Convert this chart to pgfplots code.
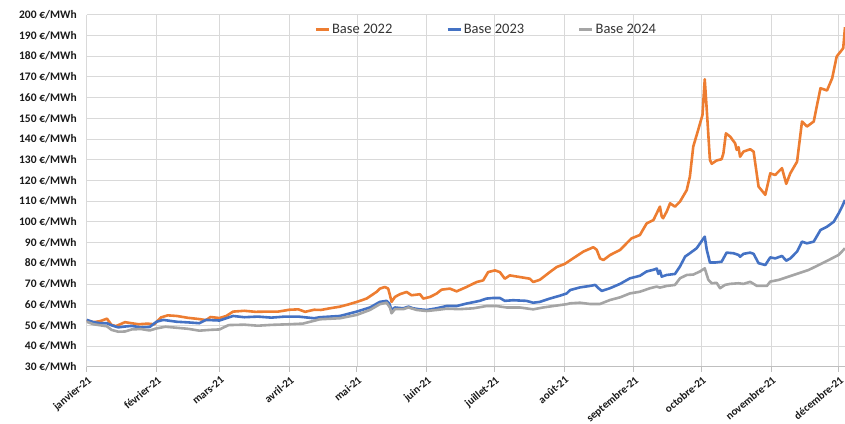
\documentclass[border=0pt]{standalone}
\usepackage{pgfplots}
\pgfplotsset{compat=1.18}
\usepackage{fontspec}
\setmainfont{Carlito}
\definecolor{cOrange}{HTML}{ED7D31}
\definecolor{cBlue}{HTML}{4472C4}
\definecolor{cGray}{HTML}{A5A5A5}
\definecolor{cGrid}{HTML}{D9D9D9}
\definecolor{cAxis}{HTML}{BFBFBF}
\begin{document}
\begin{tikzpicture}
\useasboundingbox (0pt,0pt) rectangle (845pt,423pt);
\begin{axis}[
  at={(86.7pt,56.3pt)}, anchor=south west,
  width=758.3pt, height=352pt, scale only axis,
  xmin=0, xmax=336.8, ymin=30, ymax=200,
  axis x line=bottom, axis y line=left,
  axis line style={-, draw=cAxis, line width=0.8pt},
  y axis line style={draw=cGrid},
  xtick={0,31,59,90,120,151,181,212,243,273,304,334},
  xticklabels={janvier-21,février-21,mars-21,avril-21,mai-21,juin-21,juillet-21,août-21,septembre-21,octobre-21,novembre-21,décembre-21},
  xtick align=outside, xtick pos=bottom,
  major tick length=5pt,
  xtick style={draw=cAxis, line width=0.8pt},
  xticklabel style={font=\fontsize{11}{12}\selectfont\bfseries, rotate=40, anchor=north east, inner sep=1pt, xshift=-1pt, yshift=-2pt, text=black!90},
  ytick={30,40,...,200},
  yticklabels={30 €/MWh,40 €/MWh,50 €/MWh,60 €/MWh,70 €/MWh,80 €/MWh,90 €/MWh,100 €/MWh,110 €/MWh,120 €/MWh,130 €/MWh,140 €/MWh,150 €/MWh,160 €/MWh,170 €/MWh,180 €/MWh,190 €/MWh,200 €/MWh},
  ytick style={draw=none},
  yticklabel style={font=\fontsize{11.5}{12}\selectfont\bfseries, text=black!90, xshift=-4pt},
  grid=major,
  major grid style={draw=cGrid, line width=0.7pt},
  legend style={at={(0.527,0.985)}, anchor=north, draw=none, fill=none,
    font=\fontsize{14.5}{16}\selectfont, text=black!80,
    /tikz/every even column/.append style={column sep=52pt}},
  legend columns=3,
  legend image code/.code={\draw[#1, line width=2.4pt] (0pt,0pt) -- (13pt,0pt);},
  every axis plot/.append style={line width=2.6pt, line join=round, mark=none},
]
\addplot[cOrange] coordinates {
(0,52.4)(3,51.5)(6,52)(9,53.2)(11,50.2)(13,49.6)(17,51.5)(20,51)(23,50.5)(27,50.8)
(30,50.5)(33,53.8)(36,54.8)(40,54.5)(45,53.6)(50,53)(53,52.5)(55,54)(59,53.5)(62,54.5)
(65,56.6)(70,57)(75,56.5)(80,56.6)(85,56.6)(90,57.5)(94,57.7)(97,56.5)(101,57.5)(104,57.4)
(108,58.2)(112.5,59)(116,60)(120,61.3)(124.3,62.9)(128.7,66.1)(130.2,67.7)(132.4,68.5)(133.9,67.7)(134.7,64.5)
(135.4,61.3)(136.9,63.7)(139.1,65)(142.1,66.1)(144.3,64.5)(148,65)(149.5,62.9)(152.5,63.7)(155.4,65.3)(157.6,67.2)
(161.3,67.7)(164.3,66.4)(168.7,68.5)(173.2,70.9)(176.1,71.7)(178.3,75.7)(181.3,76.5)(183.5,75.7)(185.7,72.5)(187.9,74.1)
(192.4,73.3)(196.8,72.5)(198.3,70.9)(201.3,72)(205.7,75.7)(208.7,78.1)(212.4,79.7)(216,82.3)(220.6,85.6)(225,87.7)
(226.5,86.5)(228,82.3)(229.5,81.5)(232.4,83.9)(236.9,86.4)(239.8,89.6)(242,92)(245.7,93.6)(248.7,99.2)(251.7,100.8)
(254.6,107.3)(255.4,102.5)(256,101.7)(257.6,104.9)(259.1,108.9)(261.3,107.3)(263.5,109.7)(266.5,115.3)(267.9,121.8)(269.4,136.3)
(271.6,144.4)(273.5,151.6)(274.5,168.8)(275.4,154.1)(276.8,129.9)(277.6,128)(279.8,129.6)(282,130.2)(282.8,133.1)(283.9,142.7)
(285.8,141.1)(288,137.9)(288.7,134.7)(289.5,136)(290.2,131.4)(291.7,133.9)(294.7,135)(296.2,133.9)(298.4,117)(301.4,113)
(303.6,123.4)(305.8,122.6)(308.8,125.9)(310.7,118.3)(312.5,123.4)(315.5,129)(317.7,148.4)(319.9,146)(322.9,148.4)(325.9,164.5)
(328.8,163.4)(331.1,169.3)(333.1,179.8)(336,183.8)(336.8,194)
};
\addplot[cBlue] coordinates {
(0,52.6)(3,51.5)(6,51)(9,51)(11,50)(14,49)(17,49.4)(20,49.7)(24,49)(28,49.2)
(31,51.7)(34,52.6)(40,51.7)(45,51.4)(50,51)(53,52.6)(59,52.3)(65,54.5)(70,53.9)(76,54.2)
(82,53.7)(88,54.2)(94,54.2)(101,53.4)(103.6,53.9)(112.5,54.5)(119.9,56.6)(125.8,58.6)(130.2,61.3)(133.2,61.8)
(134.4,60.5)(135.4,57.4)(136.9,58.6)(140.6,58.2)(142.9,59)(145,58.2)(148,57.7)(151,57.4)(155.4,58.2)(159.8,59.3)
(164.3,59.3)(168.7,60.5)(174.6,61.8)(177.6,62.9)(180.6,63.2)(183.5,63.2)(185.7,61.8)(189.4,62.1)(195.3,61.8)(198.3,60.9)
(201.3,61.3)(205.7,62.9)(210.2,64.3)(213.2,65.4)(214.7,67)(219.1,68.3)(223.5,69)(225.8,69.5)(227.3,67.9)(228.8,66.6)
(232.4,67.9)(236.9,70)(241.3,72.7)(245.7,73.9)(248.7,76)(251.7,76.8)(253.2,77.4)(253.9,74.8)(254.6,76.4)(255.4,73.5)
(257.6,74.3)(261.3,74.8)(263.5,78.4)(265.8,83.2)(267.9,84.8)(270.9,87.2)(274.5,92.8)(275.4,86.4)(276.8,80.3)(279,80.3)
(282,80.7)(284.2,85.1)(287.2,84.8)(289.5,84)(290.2,83.1)(291.7,84.5)(294.7,85.1)(296.2,84.5)(298.4,80)(301.4,79.1)
(303.6,82.8)(305.8,82.3)(308.8,83.5)(310.7,81.2)(312.5,82.3)(315.5,85.6)(317.7,90.4)(319.9,89.6)(322.9,90.4)(325.9,96)
(328.8,97.6)(331.8,100)(334,104.1)(335.5,107.3)(336.8,110.5)
};
\addplot[cGray] coordinates {
(0,51.7)(3,50.5)(6,50)(9,49.5)(11,47.8)(14,46.9)(17,47)(20,48)(24,48.2)(28,47.5)
(31,48.5)(35,49.3)(40,48.8)(45,48.3)(50,47.4)(55,47.8)(59,48)(63,50.1)(70,50.3)(76,49.8)
(82,50.2)(90,50.5)(96,50.8)(103.6,52.9)(112.5,53.4)(119.9,55)(125.8,57.4)(130.2,60.2)(133.2,60.9)(134.7,58.5)
(135.4,55.8)(136.9,57.8)(140.6,57.8)(142.9,58.6)(146.6,57.4)(151,56.9)(155.4,57.4)(159.8,58)(165.8,57.8)(171.7,58.2)
(177.6,59.3)(182,59.3)(186.5,58.6)(192.4,58.6)(198.3,57.7)(202.7,58.6)(207.2,59.3)(213.2,60.2)(214.7,60.6)(219.1,60.9)
(223.5,60.3)(228,60.3)(232.4,62.2)(236.9,63.5)(241.3,65.4)(245.7,66.2)(250.2,67.9)(253.2,68.7)(254.6,68.2)(257.6,69)
(261.3,69.5)(263.5,72.7)(266.5,74.3)(269.4,74.5)(272.4,76)(274.5,77.5)(276.1,72)(277.6,70.3)(279.8,70.5)(281.3,67.9)
(283.5,69.5)(285.8,70)(289.5,70.3)(291.7,70)(294.7,71)(297.7,69)(302.1,69)(303.6,71.1)(307.3,71.9)(311.8,73.5)
(316.2,75.1)(320.6,76.7)(325.1,79.1)(329.5,81.5)(334,84)(336.8,87.2)
};
\legend{Base 2022,Base 2023,Base 2024}
\end{axis}
\end{tikzpicture}
\end{document}
